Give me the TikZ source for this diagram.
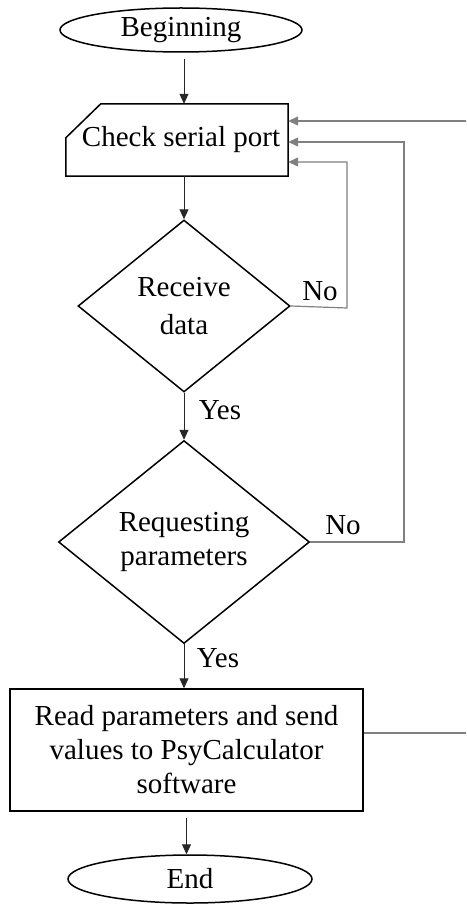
\documentclass[tikz,border=0pt]{standalone}
\usepackage{fontspec}
\setmainfont{Liberation Serif}
\usetikzlibrary{shapes.geometric,arrows.meta,calc}
\begin{document}
\begin{tikzpicture}[x=1pt,y=-1pt,
  every node/.style={font=\fontsize{29}{34}\selectfont, inner sep=0pt, align=center},
  term/.style={ellipse, draw, line width=1.5pt, minimum width=242pt, minimum height=44pt},
  dec/.style={diamond, draw, line width=1.5pt},
  proc/.style={rectangle, draw, line width=1.5pt},
  arr/.style={line width=1pt, draw=black!85, -{Triangle[length=10pt,width=9pt]}},
  ret/.style={line width=1.2pt, draw=black!50, -{Triangle[length=10pt,width=9pt]}},
  lbl/.style={font=\fontsize{29}{34}\selectfont}
]
\clip (0,0) rectangle (466,904);
\fill[white] (0,0) rectangle (466,904);

\node[term] (begin) at (181,30) {Beginning};
\node[minimum width=222pt, minimum height=72pt] (check) at (177,140) {\hspace*{8pt}Check serial port};
\draw[line width=1.5pt] (check.south west) -- (check.south east) -- (check.north east)
  -- ($(check.north west)+(35,0)$) -- ($(check.north west)+(0,34)$) -- cycle;
\node[dec, minimum width=212pt, minimum height=172pt] (recv) at (184,306) {Receive\\[4pt]data};
\node[dec, minimum width=251pt, minimum height=203pt] (req) at (184,542) {Requesting\\parameters};
\node[proc, minimum width=353pt, minimum height=122pt] (read) at (186.5,750) {Read parameters and send\\values to PsyCalculator\\software};
\node[term, minimum width=244pt, minimum height=48pt] (endn) at (190,879) {End};

% main flow
\draw[arr, shorten <=6pt] (begin.south -| recv.north) -- (check.north -| recv.north);
\draw[arr] (check.south -| recv.north) -- (recv.north);
\draw[arr] (recv.south) -- (req.north);
\draw[arr] (req.south) -- (read.north -| req.south);
\draw[arr, shorten <=6pt] (read.south) -- (endn.north -| read.south);

% return lines
\coordinate (r1) at (472,733);
\coordinate (r2) at (404,542);
\coordinate (r3) at (347,308);
\draw[ret] ($(read.east)+(0,-17)$) -- (r1) -- (r1 |- 0,121) -- (check.east |- 0,121);
\draw[ret] (req.east) -- (r2) -- (r2 |- 0,142) -- (check.east |- 0,142);
\draw[ret] (recv.east) -- (r3) -- (r3 |- 0,162) -- (check.east |- 0,162);

% labels
\node[lbl] (no1) at (320,291) {No};
\node[lbl] (no2) at (343,525) {No};
\node[lbl] (yes1) at (220,410) {Yes};
\node[lbl] (yes2) at (218,658) {Yes};
\end{tikzpicture}
\end{document}
